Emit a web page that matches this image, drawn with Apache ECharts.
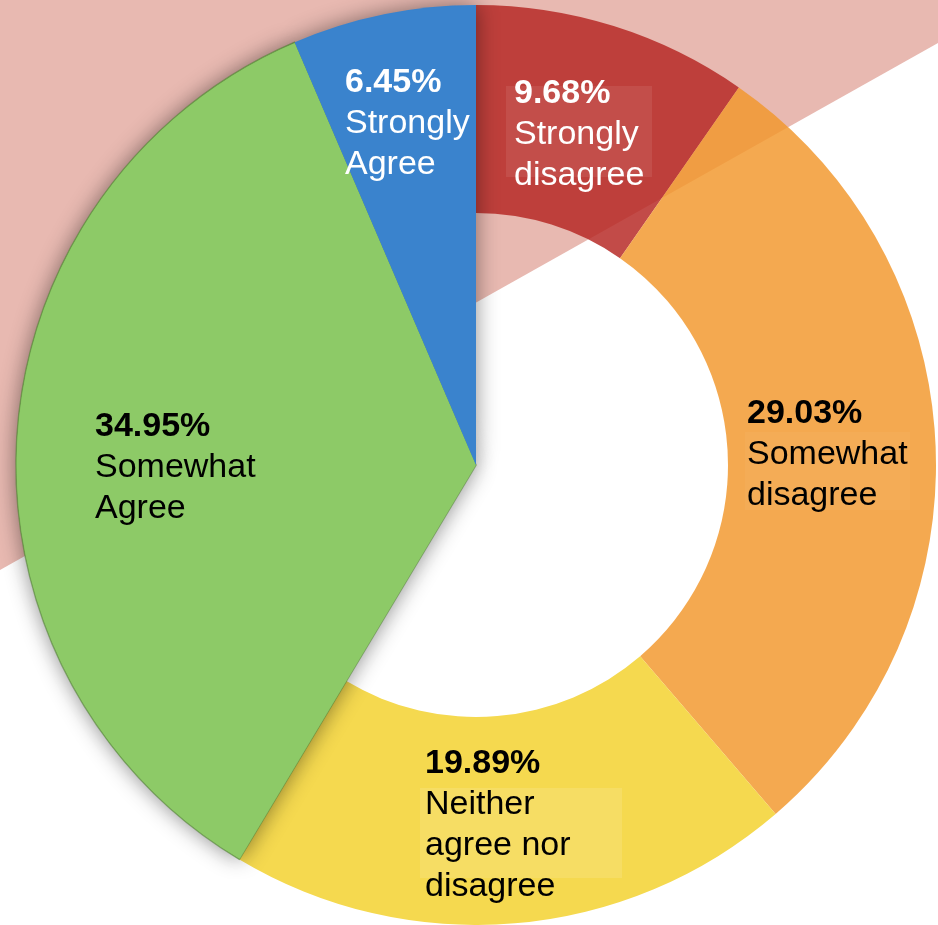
<!DOCTYPE html>
<html>
<head>
<meta charset="utf-8">
<script src="https://cdn.jsdelivr.net/npm/echarts@6/dist/echarts.min.js"></script>
<style>
html,body{margin:0;padding:0;background:#fff;}
#chart{width:938px;height:925px;}
</style>
</head>
<body>
<div id="chart"></div>
<script>
// ---- data ----
const categories = ['Strongly\ndisagree', 'Somewhat\ndisagree', 'Neither\nagree nor\ndisagree', 'Somewhat\nAgree', 'Strongly\nAgree'];
const values = [9.68, 29.03, 19.89, 34.95, 6.45];
const sliceColors = ['#b62723', '#f2982c', '#f5d94f', '#8dca67', '#3a83cd'];
const labelColors = ['#ffffff', '#000000', '#000000', '#000000', '#ffffff'];
const solidWedge = [false, false, false, true, true];

// ---- layout (styling) ----
const labelPos = [[514, 73], [747, 393], [425, 743], [95, 406], [345, 62]];
const center = [476, 465];
const outerR = 460, innerR = 252;
const FONT = "'Liberation Sans', Arial, sans-serif";

const chart = echarts.init(document.getElementById('chart'), null, {renderer: 'canvas'});

const ringData = categories.map((c, i) => ({
  name: c, value: values[i],
  itemStyle: solidWedge[i]
    ? {color: 'rgba(0,0,0,0)'}
    : {color: sliceColors[i], opacity: i === 2 ? 1 : 0.83}
}));

const shadowData = categories.map((c, i) => ({
  name: c, value: values[i],
  itemStyle: solidWedge[i]
    ? {color: sliceColors[i], shadowBlur: 22, shadowColor: 'rgba(0,0,0,0.45)',
       borderColor: i === 3 ? 'rgba(80,130,50,0.6)' : 'rgba(0,0,0,0)', borderWidth: i === 3 ? 1.5 : 0}
    : {color: 'rgba(0,0,0,0)'}
}));

const wedgeData = categories.map((c, i) => ({
  name: c, value: values[i],
  itemStyle: solidWedge[i] ? {color: sliceColors[i]} : {color: 'rgba(0,0,0,0)'},
  label: {color: labelColors[i]}
}));

const richStyle = {
  p: {fontFamily: FONT, fontWeight: 'bold', fontSize: 34, lineHeight: 41},
  n: {fontFamily: FONT, fontWeight: 'normal', fontSize: 34, lineHeight: 41}
};

chart.setOption({
  animation: false,
  backgroundColor: '#ffffff',
  graphic: [
    {
      type: 'polygon', z: -10, silent: true,
      shape: {points: [[0, 0], [938, 0], [938, 43], [0, 570]]},
      style: {fill: '#e8b9b1'}
    },
    {type: 'rect', z: 50, silent: true, shape: {x: 506, y: 86, width: 146, height: 91}, style: {fill: 'rgba(255,255,255,0.08)'}},
    {type: 'rect', z: 50, silent: true, shape: {x: 420, y: 788, width: 202, height: 90}, style: {fill: 'rgba(255,255,255,0.12)'}},
    {type: 'rect', z: 50, silent: true, shape: {x: 745, y: 432, width: 165, height: 78}, style: {fill: 'rgba(255,255,255,0.04)'}}
  ],
  series: [
    {
      type: 'pie', z: 2, center: center, radius: [innerR, outerR],
      startAngle: 90, clockwise: true, silent: true,
      label: {show: false}, labelLine: {show: false},
      data: ringData
    },
    {
      type: 'pie', zlevel: 1, z: 3, center: center, radius: [0, outerR],
      startAngle: 90, clockwise: true, silent: true,
      label: {show: false}, labelLine: {show: false},
      data: shadowData
    },
    {
      type: 'pie', zlevel: 1, z: 4, center: center, radius: [0, outerR - 0.75],
      startAngle: 90, clockwise: true, silent: true,
      avoidLabelOverlap: false,
      labelLine: {show: false},
      label: {
        show: true, position: 'inside', fontFamily: FONT, fontSize: 34,
        formatter: p => '{p|' + p.value.toFixed(2) + '%}\n' + p.name.split('\n').map(s => '{n|' + s + '}').join('\n'),
        rich: richStyle, align: 'left'
      },
      labelLayout: p => ({x: labelPos[p.dataIndex][0], y: labelPos[p.dataIndex][1], align: 'left', verticalAlign: 'top'}),
      data: wedgeData
    }
  ]
});
</script>
</body>
</html>
